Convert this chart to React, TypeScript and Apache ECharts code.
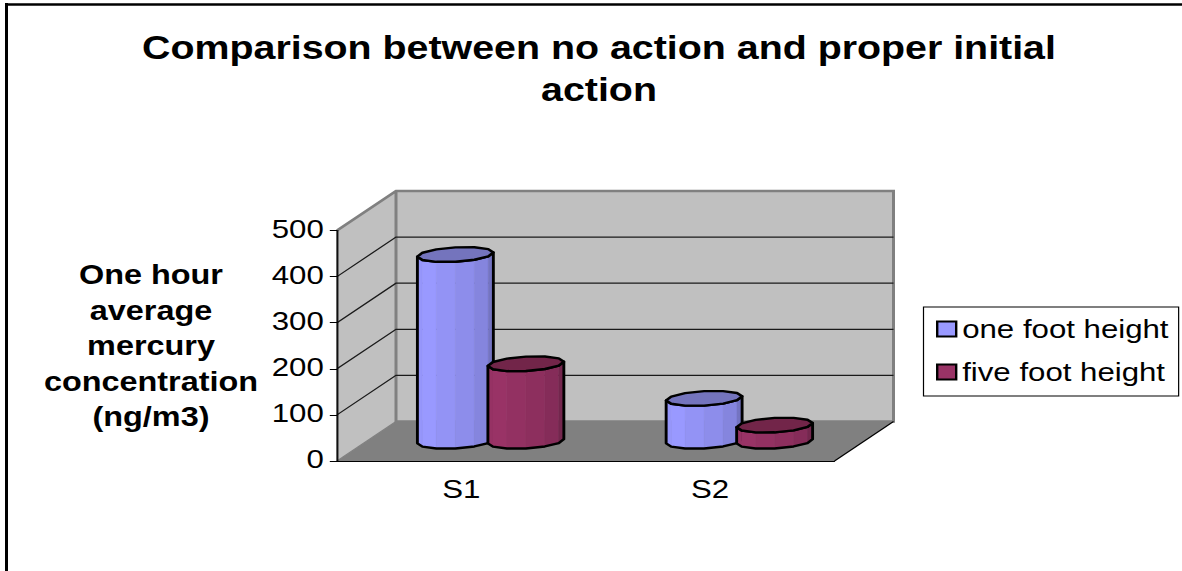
import React, { useEffect, useRef } from "react";
import * as echarts from "echarts";

const titleText = "Comparison between no action and proper initial\naction";
const yAxisTitle = "One hour\naverage\nmercury\nconcentration\n(ng/m3)";
const categories = ["S1", "S2"];
const yTicks = [0, 100, 200, 300, 400, 500];
const oneFootHeight = [405, 93];
const fiveFootHeight = [168, 35];

// The reference is a horizontally stretched picture: the whole chart is laid out narrow, then stretched.
const STRETCH = 1.2;
const px = (x: number) => x / STRETCH;
const FONT = "Liberation Sans";

const DEPTH_X = px(59);
const DEPTH_Y = 39.5;
const SEGMENTS = 6;
const facetShade = [0.98, 1, 0.96, 0.92, 0.87, 0.76];

function shade(rgb: number[], f: number) {
  return `rgb(${rgb.map((c) => Math.round(c * f)).join(",")})`;
}

function cylinder(offsetX: number, body: number[], top: string) {
  return (_params: any, api: any) => {
    const cat = api.value(0);
    const val = api.value(1);
    const [bx, by] = api.coord([cat, 0]);
    const [, ty] = api.coord([cat, val]);
    const cx = bx + DEPTH_X / 2 + px(offsetX);
    const baseY = by - DEPTH_Y / 2;
    const topY = ty - DEPTH_Y / 2;
    const wX = px(36.5);
    const dX = px(10.5);
    const dY = 7.5;
    const t0 = Math.atan2(10.5, 36.5);
    const ring = (cy: number, t: number) => [
      cx + wX * Math.cos(t) + dX * Math.sin(t),
      cy - dY * Math.sin(t),
    ];
    const frontAngles: number[] = [];
    for (let k = 0; k <= SEGMENTS; k++) frontAngles.push(Math.PI + t0 + (k * Math.PI) / SEGMENTS);
    const backAngles: number[] = [];
    for (let k = 1; k < SEGMENTS; k++) backAngles.push(t0 + (k * Math.PI) / SEGMENTS);

    const children: any[] = [];
    for (let k = 0; k < SEGMENTS; k++) {
      const a = frontAngles[k];
      const b = frontAngles[k + 1];
      children.push({
        type: "polygon",
        shape: { points: [ring(topY, a), ring(topY, b), ring(baseY, b), ring(baseY, a)] },
        style: { fill: shade(body, facetShade[k]), stroke: shade(body, facetShade[k]), lineWidth: 0.5 },
      });
    }
    const outline = [
      ...frontAngles.map((t) => ring(baseY, t)),
      ...frontAngles.slice().reverse().map((t) => ring(topY, t)),
    ];
    children.push({
      type: "polygon",
      shape: { points: outline },
      style: { fill: "none", stroke: "#000", lineWidth: 2.4, lineJoin: "round" },
    });
    children.push({
      type: "polygon",
      shape: { points: [...frontAngles.map((t) => ring(topY, t)), ...backAngles.map((t) => ring(topY, t))] },
      style: { fill: top, stroke: "#000", lineWidth: 2.4, lineJoin: "round" },
    });
    return { type: "group", children };
  };
}

function renderWalls(params: any, api: any) {
  const tick = api.value(0);
  const [x0, y] = api.coord([0, tick]);
  const left = x0 - (api.size([1, 0])[0] as number) / 2;
  const bandW = api.size([1, 0])[0] as number;
  const right = left + bandW * categories.length;
  const [, yBase] = api.coord([0, 0]);
  const [, yTop] = api.coord([0, yTicks[yTicks.length - 1]]);
  const children: any[] = [];
  const gray = "#808080";
  if (params.dataIndex === 0) {
    children.push(
      {
        type: "polygon",
        shape: { points: [[left, yBase], [left + DEPTH_X, yBase - DEPTH_Y], [right + DEPTH_X, yBase - DEPTH_Y], [right, yBase]] },
        style: { fill: gray },
      },
      {
        type: "polygon",
        shape: { points: [[left, yBase], [left + DEPTH_X, yBase - DEPTH_Y], [left + DEPTH_X, yTop - DEPTH_Y], [left, yTop]] },
        style: { fill: "#c0c0c0" },
      },
      {
        type: "rect",
        shape: { x: left + DEPTH_X, y: yTop - DEPTH_Y, width: right - left, height: yBase - yTop },
        style: { fill: "#c0c0c0" },
      },
      {
        type: "polyline",
        shape: { points: [[left, yTop], [left + DEPTH_X, yTop - DEPTH_Y], [right + DEPTH_X, yTop - DEPTH_Y], [right + DEPTH_X, yBase - DEPTH_Y], [left + DEPTH_X, yBase - DEPTH_Y], [left + DEPTH_X, yTop - DEPTH_Y]] },
        style: { fill: "none", stroke: gray, lineWidth: 2.5 },
      },
      {
        type: "line",
        shape: { x1: right, y1: yBase, x2: right + DEPTH_X, y2: yBase - DEPTH_Y },
        style: { stroke: "#000", lineWidth: 1 },
      },
      {
        type: "line",
        shape: { x1: left, y1: yBase, x2: left + DEPTH_X, y2: yBase - DEPTH_Y },
        style: { stroke: gray, lineWidth: 1 },
      },
      {
        type: "line",
        shape: { x1: left, y1: yTop, x2: left, y2: yBase },
        style: { stroke: "#000", lineWidth: 1 },
      }
    );
  } else if (tick !== yTicks[yTicks.length - 1]) {
    children.push(
      {
        type: "polyline",
        shape: { points: [[left, y], [left + DEPTH_X, y - DEPTH_Y], [right + DEPTH_X, y - DEPTH_Y]] },
        style: { fill: "none", stroke: "#1a1a1a", lineWidth: 1.2 },
      }
    );
  }
  return { type: "group", children };
}

export default function App() {
  const ref = useRef<HTMLDivElement>(null);
  useEffect(() => {
    if (!ref.current) return;
    const chart = echarts.init(ref.current, undefined, { renderer: "svg" });
    const textColor = "#000";
    chart.setOption({
      animation: false,
      backgroundColor: "#fff",
      title: {
        text: titleText,
        left: px(593),
        top: 22,
        textAlign: "center",
        textStyle: { fontFamily: FONT, fontWeight: "bold", fontSize: 32.8, lineHeight: 42, color: textColor },
      },
      legend: {
        orient: "vertical",
        left: px(923.5),
        top: 307,
        padding: [9, px(10), 11, px(12.5)],
        backgroundColor: "#fff",
        borderColor: "#000",
        borderWidth: 1,
        borderRadius: 0,
        itemWidth: px(19),
        itemHeight: 15,
        itemGap: 17,
        itemStyle: { borderColor: "#000", borderWidth: 2 },
        icon: "rect",
        data: ["one foot height", "five foot height"],
        textStyle: { fontFamily: FONT, fontSize: 26, color: textColor },
      },
      grid: { left: px(337), top: 230.5, width: px(497.5), height: 230.5, containLabel: false },
      xAxis: {
        type: "category",
        data: categories,
        z: 5,
        axisLine: { lineStyle: { color: "#000", width: 1 } },
        axisTick: { alignWithLabel: false, length: 7, lineStyle: { color: "#000" } },
        axisLabel: { fontFamily: FONT, fontSize: 26, color: textColor, margin: 15 },
      },
      yAxis: {
        type: "value",
        min: 0,
        max: 500,
        interval: 100,
        z: 5,
        name: yAxisTitle,
        nameLocation: "middle",
        nameRotate: 0,
        nameGap: px(186),
        nameTextStyle: { fontFamily: FONT, fontWeight: "bold", fontSize: 27, lineHeight: 35.5, color: textColor, align: "center", verticalAlign: "middle" },
        splitLine: { show: false },
        axisLine: { show: true, lineStyle: { color: "#000", width: 1 } },
        axisTick: { show: true, length: 6, lineStyle: { color: "#000" } },
        axisLabel: {
          fontFamily: FONT,
          color: textColor,
          margin: 11,
          formatter: "{v|{value}}",
          rich: { v: { fontFamily: FONT, fontSize: 26, color: textColor, padding: [0, 0, 4, 0] } },
        },
      },
      graphic: [
        { type: "line", silent: true, shape: { x1: px(5), y1: 4.5, x2: px(1182), y2: 4.5 }, style: { stroke: "#000", lineWidth: 2.5 } },
        { type: "line", silent: true, shape: { x1: px(6.5), y1: 3, x2: px(6.5), y2: 571 }, style: { stroke: "#000", lineWidth: 2.5 } },
      ],
      series: [
        {
          type: "custom",
          name: "walls",
          silent: true,
          z: 1,
          data: yTicks.map((t) => [t]),
          encode: { y: 0 },
          renderItem: renderWalls,
        },
        {
          type: "custom",
          name: "one foot height",
          z: 2,
          itemStyle: { color: "#9999ff" },
          data: categories.map((_, i) => [i, oneFootHeight[i]]),
          encode: { x: 0, y: 1 },
          renderItem: cylinder(-35.5, [153, 153, 255], "#7474bd"),
        },
        {
          type: "custom",
          name: "five foot height",
          z: 3,
          itemStyle: { color: "#993366" },
          data: categories.map((_, i) => [i, fiveFootHeight[i]]),
          encode: { x: 0, y: 1 },
          renderItem: cylinder(35, [153, 51, 102], "#722549"),
        },
      ],
    });
    return () => chart.dispose();
  }, []);
  return (
    <div
      ref={ref}
      style={{
        position: "absolute",
        left: 0,
        top: 0,
        width: 1182 / STRETCH,
        height: 571,
        transform: `scaleX(${STRETCH})`,
        transformOrigin: "0 0",
      }}
    />
  );
}
